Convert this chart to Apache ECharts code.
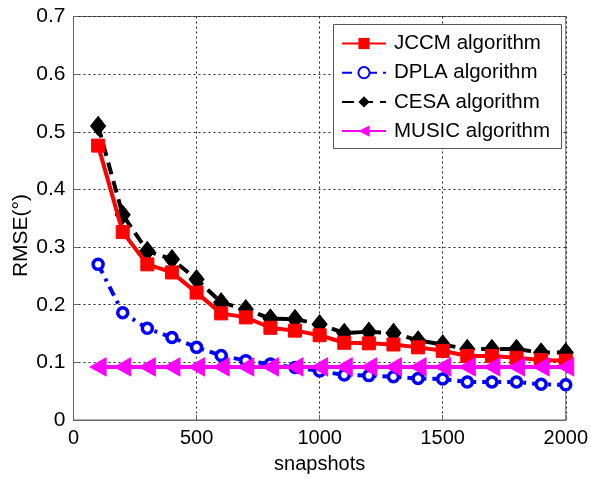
<!DOCTYPE html>
<html>
<head>
<meta charset="utf-8">
<script src="https://cdn.jsdelivr.net/npm/echarts@6/dist/echarts.min.js"></script>
<style>
html,body{margin:0;padding:0;background:#fff;}
#main{width:591px;height:479px;}
</style>
</head>
<body>
<div id="main"></div>
<script>
const snapshots = [100,200,300,400,500,600,700,800,900,1000,1100,1200,1300,1400,1500,1600,1700,1800,1900,2000];
const jccm  = [0.476,0.326,0.270,0.256,0.221,0.185,0.178,0.160,0.155,0.147,0.134,0.133,0.131,0.126,0.120,0.111,0.111,0.108,0.104,0.103];
const dpla  = [0.270,0.186,0.159,0.143,0.126,0.112,0.103,0.097,0.091,0.085,0.078,0.077,0.075,0.072,0.071,0.066,0.066,0.066,0.062,0.061];
const cesa  = [0.510,0.356,0.293,0.279,0.244,0.204,0.192,0.176,0.175,0.166,0.151,0.153,0.151,0.138,0.131,0.123,0.123,0.123,0.117,0.117];
const music = [0.092,0.092,0.092,0.092,0.092,0.092,0.092,0.092,0.092,0.092,0.092,0.092,0.092,0.092,0.092,0.092,0.092,0.092,0.092,0.092];
const seriesNames = ['JCCM algorithm','DPLA algorithm','CESA algorithm','MUSIC algorithm'];
const xTicks = [0,500,1000,1500,2000];
const yTicks = [0,0.1,0.2,0.3,0.4,0.5,0.6,0.7];

const FONT = 'Liberation Sans';
function pairs(v){ return snapshots.map((x,i)=>[x,v[i]]); }

const chart = echarts.init(document.getElementById('main'), null, {renderer:'canvas'});
chart.setOption({
  animation:false,
  backgroundColor:'#fff',
  grid:{left:73.5, right:23.5, top:16.5, bottom:58, show:true, borderColor:'#666', borderWidth:1, containLabel:false},
  xAxis:{
    type:'value', min:xTicks[0], max:xTicks[xTicks.length-1], interval:500,
    name:'snapshots', nameLocation:'middle', nameGap:34,
    nameTextStyle:{fontFamily:FONT, fontSize:20, color:'#000'},
    axisLine:{show:true, lineStyle:{color:'#666', width:1}},
    axisTick:{show:true, inside:true, length:5, lineStyle:{color:'#666'}},
    axisLabel:{fontFamily:FONT, fontSize:20, color:'#000', margin:8,
      formatter:function(v){ return String(v); }},
    splitLine:{show:true, lineStyle:{type:[2,3], color:'#222', width:1}}
  },
  yAxis:{
    type:'value', min:yTicks[0], max:yTicks[yTicks.length-1], interval:0.1,
    axisLine:{show:true, lineStyle:{color:'#666', width:1}},
    axisTick:{show:true, inside:true, length:5, lineStyle:{color:'#666'}},
    axisLabel:{fontFamily:FONT, fontSize:21, color:'#000', margin:8,
      formatter:function(v){ return v===0 ? '0' : v.toFixed(1); }},
    splitLine:{show:true, lineStyle:{type:[2,3], color:'#222', width:1}}
  },
  graphic:[
    {type:'rect', left:333, top:24, shape:{width:228, height:124}, style:{fill:'#fff', stroke:'#555', lineWidth:1}, z:90},
    {type:'text', left:11, top:194, rotation:Math.PI/2, style:{text:'RMSE(°)', fontFamily:FONT, fontSize:21, fill:'#000'}, z:100}
  ],
  legend:{
    orient:'vertical', left:341, top:33, itemWidth:44, itemHeight:14, itemGap:8.2,
    padding:0, z:100,
    textStyle:{fontFamily:FONT, fontSize:20.5, color:'#000', padding:[0,0,0,3]},
    data:seriesNames
  },
  series:[
    {name:seriesNames[0], type:'line', data:pairs(jccm), symbol:'rect', symbolSize:13,
     itemStyle:{color:'#ff0000', borderColor:'#ff0000'}, lineStyle:{color:'#ff0000', width:4}, z:4},
    {name:seriesNames[1], type:'line', data:pairs(dpla), symbol:'circle', symbolSize:10,
     itemStyle:{color:'#fff', borderColor:'#0000ff', borderWidth:3.5}, lineStyle:{color:'#0000ff', width:4, type:[10,6,3,6]}, z:2},
    {name:seriesNames[2], type:'line', data:pairs(cesa), symbol:'diamond', symbolSize:[15,19],
     itemStyle:{color:'#000', borderColor:'#000'}, lineStyle:{color:'#000', width:4, type:[12,7]}, z:3},
    {name:seriesNames[3], type:'line', data:pairs(music), symbol:'triangle', symbolSize:[18,16], symbolRotate:90,
     itemStyle:{color:'#ff00ff', borderColor:'#ff00ff'}, lineStyle:{color:'#ff00ff', width:4}, z:5}
  ]
});
</script>
</body>
</html>
